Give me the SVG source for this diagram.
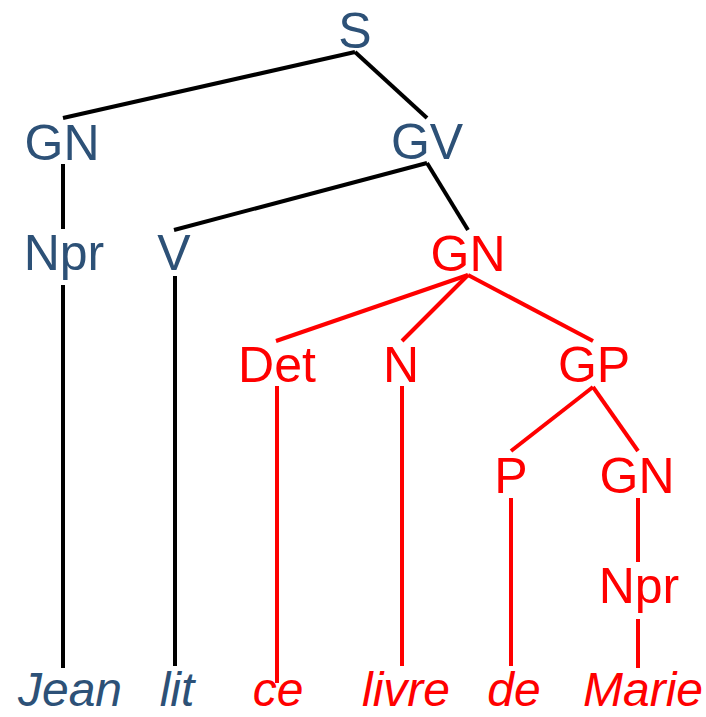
<svg xmlns="http://www.w3.org/2000/svg" width="706" height="717" viewBox="0 0 706 717">
<style>
text{font-family:"Liberation Sans",Arial,sans-serif;font-size:50px;text-anchor:middle}
.b{fill:#2d5177}
.r{fill:#ff0000}
.leaf{font-style:italic;font-size:48px}
.k{stroke:#000;stroke-width:4;fill:none;stroke-linecap:butt}
.rl{stroke:#ff0000;stroke-width:4;fill:none;stroke-linecap:butt}
</style>
<rect width="706" height="717" fill="#fff"/>
<g id="connectors">
<line class="k" x1="355" y1="52" x2="63" y2="118"/>
<line class="k" x1="355" y1="52" x2="427" y2="118"/>
<line class="k" x1="63" y1="164" x2="63" y2="229"/>
<line class="k" x1="427" y1="163" x2="174" y2="230"/>
<line class="k" x1="427" y1="163" x2="468" y2="230"/>
<line class="k" x1="63" y1="285" x2="63" y2="668"/>
<line class="k" x1="175" y1="276" x2="175" y2="666"/>
<line class="rl" x1="468" y1="275" x2="276" y2="341"/>
<line class="rl" x1="468" y1="275" x2="402" y2="341"/>
<line class="rl" x1="468" y1="275" x2="593" y2="341"/>
<line class="rl" x1="277" y1="386" x2="277" y2="683"/>
<line class="rl" x1="402" y1="386" x2="402" y2="666"/>
<line class="rl" x1="593" y1="387" x2="511" y2="451"/>
<line class="rl" x1="593" y1="387" x2="638" y2="451"/>
<line class="rl" x1="511" y1="498" x2="511" y2="666"/>
<line class="rl" x1="638" y1="498" x2="638" y2="562"/>
<line class="rl" x1="638" y1="619" x2="638" y2="668"/>
</g>
<g id="S"><text class="b" x="355" y="48">S</text></g>
<g id="GN1"><text class="b" x="62" y="160">GN</text></g>
<g id="GV"><text class="b" x="427" y="159">GV</text></g>
<g id="Npr1"><text class="b" x="64" y="270">Npr</text></g>
<g id="V"><text class="b" x="174" y="270">V</text></g>
<g id="GN2"><text class="r" x="468" y="271">GN</text></g>
<g id="Det"><text class="r" x="277" y="382">Det</text></g>
<g id="N"><text class="r" x="401" y="382">N</text></g>
<g id="GP"><text class="r" x="594" y="382">GP</text></g>
<g id="P"><text class="r" x="511" y="493">P</text></g>
<g id="GN3"><text class="r" x="637" y="493">GN</text></g>
<g id="Npr2"><text class="r" x="639" y="603">Npr</text></g>
<g id="Jean"><text class="b leaf" x="70" y="706">Jean</text></g>
<g id="lit"><text class="b leaf" x="177" y="706">lit</text></g>
<g id="ce"><text class="r leaf" x="278" y="706">ce</text></g>
<g id="livre"><text class="r leaf" x="406" y="706">livre</text></g>
<g id="de"><text class="r leaf" x="514" y="706">de</text></g>
<g id="Marie"><text class="r leaf" x="643" y="706">Marie</text></g>
</svg>
